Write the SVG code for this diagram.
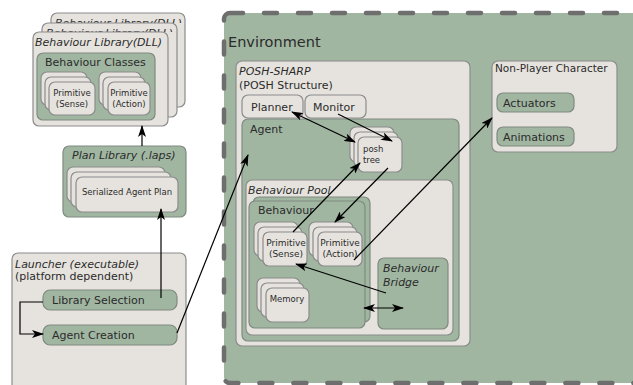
<svg xmlns="http://www.w3.org/2000/svg" width="633" height="385" viewBox="0 0 633 385">
<defs>
<style>
text{font-family:"DejaVu Sans","Liberation Sans",sans-serif;fill:#2b2b2b}
.g{fill:#a0b6a1;stroke:#7f8a80;stroke-width:1.2}
.w{fill:#e6e3de;stroke:#8c8c8c;stroke-width:1.2}
.it{font-style:italic}
.c{stroke:#000;stroke-width:1.2;fill:none}
</style>
<marker id="ah" viewBox="0 0 12 8" refX="11" refY="4" markerWidth="12" markerHeight="8" markerUnits="userSpaceOnUse" orient="auto-start-reverse">
<path d="M0,0 L12,4 L0,8 L3,4 Z" fill="#000"/>
</marker>
<clipPath id="clipA"><rect x="51" y="13" width="134" height="10"/></clipPath>
<clipPath id="clipB"><rect x="42" y="23" width="135" height="9"/></clipPath>
</defs>
<rect width="633" height="385" fill="#fff"/>

<g id="env">
<rect x="224" y="13" width="440" height="370" rx="6" fill="#a0b6a1" stroke="#6e6e6e" stroke-width="4.5" stroke-dasharray="13 21" stroke-linecap="round"/>
<text x="228" y="47" font-size="14.5">Environment</text>
</g>

<g id="behaviour-library">
<rect class="w" x="51" y="13" width="134" height="94" rx="6"/>
<text class="it" x="55" y="27" font-size="11" clip-path="url(#clipA)">Behaviour Library(DLL)</text>
<rect class="w" x="42" y="23" width="135" height="94" rx="6"/>
<text class="it" x="46" y="37" font-size="11" clip-path="url(#clipB)">Behaviour Library(DLL)</text>
<rect class="w" x="33" y="32" width="135" height="94" rx="6"/>
<text class="it" x="35" y="46" font-size="11">Behaviour Library(DLL)</text>
<rect class="g" x="37" y="53" width="118" height="67" rx="6"/>
<text x="45" y="66" font-size="11">Behaviour Classes</text>
<rect class="w" x="41" y="72" width="46" height="33" rx="6"/>
<rect class="w" x="45" y="77" width="46" height="33" rx="6"/>
<rect class="w" x="49" y="82" width="46" height="33" rx="6"/>
<text x="72" y="96" font-size="8.5" text-anchor="middle">Primitive</text>
<text x="72" y="107" font-size="8.5" text-anchor="middle">(Sense)</text>
<rect class="w" x="99" y="72" width="42" height="33" rx="6"/>
<rect class="w" x="103" y="77" width="42" height="33" rx="6"/>
<rect class="w" x="108" y="82" width="42" height="33" rx="6"/>
<text x="129" y="96" font-size="8.5" text-anchor="middle">Primitive</text>
<text x="129" y="107" font-size="8.5" text-anchor="middle">(Action)</text>
</g>

<g id="plan-library">
<rect class="g" x="63" y="146" width="123" height="71" rx="6"/>
<text class="it" x="72" y="159" font-size="11">Plan Library (.laps)</text>
<rect class="w" x="67" y="167" width="98" height="35" rx="6"/>
<rect class="w" x="71" y="172" width="100" height="35" rx="6"/>
<rect class="w" x="76" y="177" width="102" height="35" rx="6"/>
<text x="127" y="195" font-size="8.5" text-anchor="middle">Serialized Agent Plan</text>
</g>

<g id="launcher">
<rect class="w" x="12" y="253" width="174" height="150" rx="6"/>
<text class="it" x="15" y="268" font-size="11">Launcher (executable)</text>
<text x="15" y="280" font-size="11">(platform dependent)</text>
</g>
<g id="library-selection">
<rect class="g" x="43" y="290" width="134" height="20" rx="7"/>
<text x="52" y="304" font-size="11">Library Selection</text>
</g>
<g id="agent-creation">
<rect class="g" x="43" y="325" width="134" height="20" rx="7"/>
<text x="52" y="339" font-size="11">Agent Creation</text>
</g>

<g id="posh-sharp">
<rect class="w" x="236" y="61" width="234" height="285" rx="6"/>
<text class="it" x="239" y="75" font-size="11">POSH-SHARP</text>
<text x="239" y="89" font-size="11">(POSH Structure)</text>
</g>
<g id="planner">
<rect class="w" x="242" y="95" width="61" height="23" rx="6"/>
<text x="251" y="111" font-size="11">Planner</text>
</g>
<g id="monitor">
<rect class="w" x="305" y="95" width="61" height="23" rx="6"/>
<text x="313" y="111" font-size="11">Monitor</text>
</g>
<g id="agent">
<rect class="g" x="242" y="119" width="217" height="222" rx="6"/>
<text x="250" y="133" font-size="11">Agent</text>
</g>
<g id="posh-tree">
<rect class="w" x="350" y="127" width="44" height="35" rx="6"/>
<rect class="w" x="354" y="132" width="44" height="35" rx="6"/>
<rect class="w" x="358" y="137" width="44" height="35" rx="6"/>
<text x="363" y="152" font-size="8.5">posh</text>
<text x="363" y="163" font-size="8.5">tree</text>
</g>
<g id="behaviour-pool">
<rect class="w" x="246" y="180" width="207" height="155" rx="6"/>
<text class="it" x="248" y="194" font-size="11">Behaviour Pool</text>
</g>
<g id="behaviour">
<rect class="g" x="253" y="197" width="117" height="125" rx="6"/>
<rect class="g" x="249" y="201" width="116" height="127" rx="6"/>
<text x="258" y="214" font-size="11">Behaviour</text>
</g>
<g id="primitive-sense">
<rect class="w" x="254" y="222" width="44" height="34" rx="6"/>
<rect class="w" x="258" y="227" width="44" height="34" rx="6"/>
<rect class="w" x="263" y="232" width="44" height="34" rx="6"/>
<text x="286" y="246" font-size="9" text-anchor="middle">Primitive</text>
<text x="286" y="257" font-size="9" text-anchor="middle">(Sense)</text>
</g>
<g id="primitive-action">
<rect class="w" x="309" y="222" width="44" height="34" rx="6"/>
<rect class="w" x="313" y="227" width="44" height="34" rx="6"/>
<rect class="w" x="318" y="232" width="44" height="34" rx="6"/>
<text x="340" y="246" font-size="9" text-anchor="middle">Primitive</text>
<text x="340" y="257" font-size="9" text-anchor="middle">(Action)</text>
</g>
<g id="memory">
<rect class="w" x="257" y="278" width="43" height="34" rx="6"/>
<rect class="w" x="261" y="283" width="43" height="34" rx="6"/>
<rect class="w" x="266" y="288" width="43" height="34" rx="6"/>
<text x="287" y="302" font-size="8.5" text-anchor="middle">Memory</text>
</g>
<g id="behaviour-bridge">
<rect class="g" x="378" y="258" width="70" height="71" rx="6"/>
<text class="it" x="383" y="272" font-size="11">Behaviour</text>
<text class="it" x="383" y="286" font-size="11">Bridge</text>
</g>

<g id="npc">
<rect class="w" x="492" y="61" width="125" height="91" rx="6"/>
<text x="495" y="72" font-size="10.5">Non-Player Character</text>
</g>
<g id="actuators">
<rect class="g" x="497" y="93" width="77" height="19" rx="6"/>
<text x="503" y="107" font-size="11">Actuators</text>
</g>
<g id="animations">
<rect class="g" x="497" y="127" width="77" height="19" rx="6"/>
<text x="503" y="141" font-size="11">Animations</text>
</g>

<g id="connectors">
<path class="c" d="M142,146 L142,126" marker-end="url(#ah)"/>
<path class="c" d="M161,298 L161,209" marker-end="url(#ah)"/>
<path class="c" d="M43,302 L20,302 L20,334 L43,334" marker-end="url(#ah)"/>
<path class="c" d="M177,333 L248,155" marker-end="url(#ah)"/>
<path class="c" d="M292,112 L355,142" marker-start="url(#ah)" marker-end="url(#ah)"/>
<path class="c" d="M338,114 L392,141" marker-end="url(#ah)"/>
<path class="c" d="M293,232 L360,163" marker-end="url(#ah)"/>
<path class="c" d="M388,168 L335,222" marker-end="url(#ah)"/>
<path class="c" d="M354,260 L492,118" marker-end="url(#ah)"/>
<path class="c" d="M386,293 L296,264" marker-end="url(#ah)"/>
<path class="c" d="M364,308 L403,308" marker-start="url(#ah)" marker-end="url(#ah)"/>
</g>
</svg>
